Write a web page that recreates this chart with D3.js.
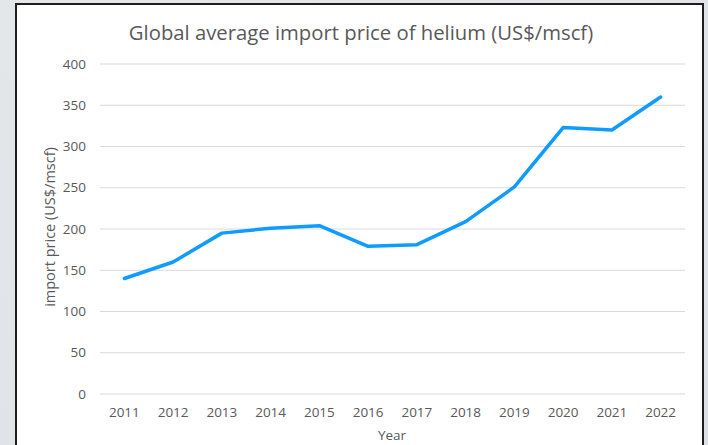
<!DOCTYPE html>
<html>
<head>
<meta charset="utf-8">
<script src="https://d3js.org/d3.v7.min.js"></script>
<style>
  body { margin: 0; overflow: hidden; }
  text { font-family: "Open Sans", "Liberation Sans", sans-serif; fill: #595959; }
</style>
</head>
<body>
<svg id="vis"></svg>
<script>
  var years = ['2011', '2012', '2013', '2014', '2015', '2016', '2017', '2018', '2019', '2020', '2021', '2022']
  var prices = [140, 160, 195, 201, 204, 179, 181, 209, 251, 323, 320, 360]
  var yTicks = [0, 50, 100, 150, 200, 250, 300, 350, 400]

  var width = 708, height = 445
  var plot = {left: 100, right: 685, top: 64, bottom: 394}

  var svg = d3.select('#vis').attr('width', width).attr('height', height)

  // backdrop outside the chart box
  var defs = svg.append('defs')
  var grad = defs.append('linearGradient').attr('id', 'bg')
    .attr('x1', 0).attr('y1', 0).attr('x2', 1).attr('y2', 1)
  grad.append('stop').attr('offset', '0%').attr('stop-color', '#e4e7ea')
  grad.append('stop').attr('offset', '100%').attr('stop-color', '#dde1e5')
  svg.append('rect').attr('width', width).attr('height', height).attr('fill', 'url(#bg)')

  // chart box
  svg.append('rect')
    .attr('x', 16).attr('y', 4).attr('width', 687).attr('height', 450)
    .attr('fill', 'white').attr('stroke', '#1e1e1e').attr('stroke-width', 2)

  var x = d3.scaleBand().domain(years).range([plot.left, plot.right])
  var y = d3.scaleLinear().domain([0, 400]).range([plot.bottom, plot.top])

  // gridlines
  svg.append('g').selectAll('line').data(yTicks).enter().append('line')
    .attr('x1', plot.left).attr('x2', plot.right)
    .attr('y1', d => y(d)).attr('y2', d => y(d))
    .attr('stroke', '#d9d9d9').attr('stroke-width', 1)

  // y tick labels
  svg.append('g').selectAll('text').data(yTicks).enter().append('text')
    .attr('x', 86).attr('y', d => y(d)).attr('dy', '0.35em')
    .attr('text-anchor', 'end').style('font-size', '13.5px')
    .text(d => d)

  // x tick labels
  svg.append('g').selectAll('text').data(years).enter().append('text')
    .attr('x', d => x(d) + x.bandwidth() / 2).attr('y', 417)
    .attr('text-anchor', 'middle').style('font-size', '13.5px')
    .text(d => d)

  // line
  var line = d3.line()
    .x((d, i) => x(years[i]) + x.bandwidth() / 2)
    .y(d => y(d))
  svg.append('path').datum(prices)
    .attr('d', line)
    .attr('fill', 'none').attr('stroke', '#0f9bff')
    .attr('stroke-width', 3.5).attr('stroke-linejoin', 'round').attr('stroke-linecap', 'round')

  // titles
  svg.append('text').attr('x', 361).attr('y', 40)
    .attr('text-anchor', 'middle').style('font-size', '20.3px')
    .text('Global average import price of helium (US$/mscf)')

  svg.append('text').attr('x', 392).attr('y', 440)
    .attr('text-anchor', 'middle').style('font-size', '13.5px')
    .text('Year')

  svg.append('text')
    .attr('transform', 'translate(55,227) rotate(-90)')
    .attr('text-anchor', 'middle').style('font-size', '14.5px')
    .text('import price (US$/mscf)')
</script>
</body>
</html>
